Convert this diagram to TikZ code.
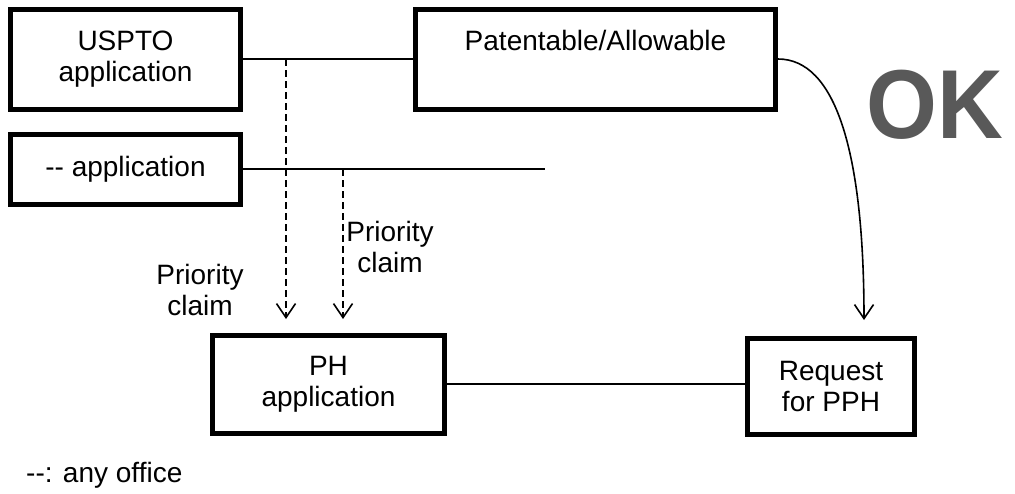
\documentclass[tikz,border=0pt]{standalone}
\usepackage{fontspec}
\setmainfont{Liberation Sans}
\usetikzlibrary{arrows.meta}

\begin{document}
\begin{tikzpicture}[x=1pt, y=-1pt, font=\fontsize{28}{31}\selectfont,
    box/.style={draw, line width=5pt, align=center, inner sep=0pt},
    conn/.style={line width=1.6pt},
    claim/.style={line width=1.6pt, dash pattern=on 7pt off 4pt},
    >={Straight Barb[length=14pt, width=19pt, line width=1.6pt]}]
          \useasboundingbox (0,0) rectangle (1015,493);
          %\draw[help lines, step=50] (0,0) grid (1015,493);

          \node[box, minimum width=230pt, minimum height=100pt] (uspto) at (125.5,59) {USPTO\\application};
          \node[box, minimum width=360pt, minimum height=100pt] (patent) at (595.5,59) {};
          \node[anchor=base] (patenttxt) at (595.5,50) {Patentable/Allowable};
          \node[box, minimum width=230pt, minimum height=70pt] (other) at (125.5,169) {-{}- application};
          \node[box, minimum width=232pt, minimum height=98pt] (ph) at (328.5,384) {PH\\application};
          \node[box, minimum width=167pt, minimum height=96pt] (pph) at (831,386) {Request\\for PPH};

          \coordinate (otherend) at (545,169);
          \coordinate (pc1) at (286,59);
          \coordinate (pc2) at (343,169);
          \coordinate (tip1) at (286,319);
          \coordinate (tip2) at (343,319);
          \coordinate (okend) at (864,320);

          \draw [conn] (uspto.east) -- (patent.west);
          \draw [conn] (other.east) -- (otherend);
          \draw [conn] (ph.east) -- (ph.east -| pph.west);
          \draw [claim, ->] (pc1) -- (tip1);
          \draw [claim, ->] (pc2) -- (tip2);
          \draw [conn, ->] (patent.east) .. controls (835,59) and (864,150) .. (okend);

          \node[align=center] (claimleft) at (200,290) {Priority\\claim};
          \node[align=center] (claimright) at (390,247) {Priority\\claim};

          \node[anchor=base west, font=\fontsize{98}{98}\selectfont\bfseries, text=black!65, xscale=0.93, inner sep=0pt] (ok) at (866,138) {OK};
          \node[anchor=base west, inner sep=0pt] (legend) at (26,482) {-{}-: any office};

        \end{tikzpicture}
\end{document}
